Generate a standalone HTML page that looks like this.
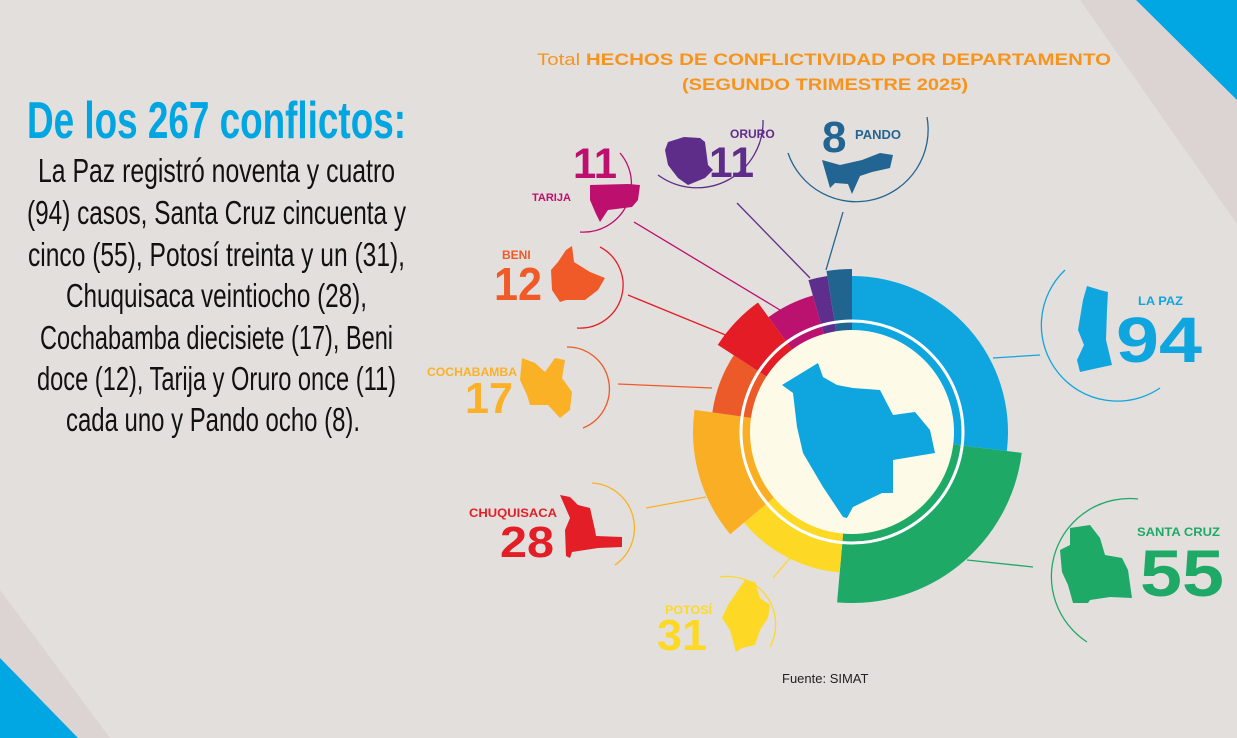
<!DOCTYPE html>
<html><head><meta charset="utf-8">
<style>
html,body{margin:0;padding:0;background:#e3dfdc;}
svg{display:block;}
.c{font-family:"Liberation Sans Narrow","Liberation Sans",sans-serif;}
.s{font-family:"Liberation Sans","DejaVu Sans",sans-serif;font-weight:bold;}
</style></head>
<body>
<svg id="sv" width="1237" height="738" viewBox="0 0 1237 738" xmlns="http://www.w3.org/2000/svg">
<rect width="1237" height="738" fill="#e3dfdc"/>
<polygon points="1080,0 1237,0 1237,224" fill="#dbd4d2"/>
<polygon points="1136,0 1237,0 1237,100" fill="#00a7e3"/>
<polygon points="0,590 110,738 0,738" fill="#dbd4d2"/>
<polygon points="0,658 78,738 0,738" fill="#00a7e3"/>

<text x="537" y="65" class="s" font-size="17" fill="#f7941d" textLength="574" lengthAdjust="spacingAndGlyphs"><tspan font-weight="normal">Total</tspan> HECHOS DE CONFLICTIVIDAD POR DEPARTAMENTO</text>
<text x="682" y="90" class="s" font-size="17" fill="#f7941d" textLength="286" lengthAdjust="spacingAndGlyphs">(SEGUNDO TRIMESTRE 2025)</text>

<g class="c">
<text x="27" y="138" font-size="52" font-weight="bold" fill="#00a6e2" textLength="379" lengthAdjust="spacingAndGlyphs">De los 267 conflictos:</text>
<g font-size="33" fill="#111">
<text x="38" y="182" textLength="357" lengthAdjust="spacingAndGlyphs">La Paz registró noventa y cuatro</text>
<text x="27" y="224" textLength="379" lengthAdjust="spacingAndGlyphs">(94) casos, Santa Cruz cincuenta y</text>
<text x="28" y="266" textLength="377" lengthAdjust="spacingAndGlyphs">cinco (55), Potosí treinta y un (31),</text>
<text x="66" y="307" textLength="301" lengthAdjust="spacingAndGlyphs">Chuquisaca veintiocho (28),</text>
<text x="40" y="349" textLength="353" lengthAdjust="spacingAndGlyphs">Cochabamba diecisiete (17), Beni</text>
<text x="37" y="390" textLength="359" lengthAdjust="spacingAndGlyphs">doce (12), Tarija y Oruro once (11)</text>
<text x="66" y="431" textLength="294" lengthAdjust="spacingAndGlyphs">cada uno y Pando ocho (8).</text>
</g></g>

<g id="ring"></g>
<circle cx="852" cy="432" r="102" fill="#fdfbe8"/>
<circle cx="852" cy="432" r="111" fill="none" stroke="#fff" stroke-width="3"/>
<polygon fill="#0fa5df" points="782,385 818,363 823,377 837,385 853,388 880,390 893,415 915,412 930,430 935,453 893,460 893,493 882,493 853,507 847,518 843,517 823,487 803,453 797,427 793,393"/>

<g fill="none" stroke-width="1.3">
<line x1="634" y1="222" x2="780" y2="310" stroke="#bc0f6e"/>
<line x1="737" y1="203" x2="810" y2="278" stroke="#5e2d8a"/>
<line x1="843" y1="212" x2="826" y2="270" stroke="#236592"/>
<line x1="628" y1="295" x2="728" y2="336" stroke="#e31e26"/>
<line x1="618" y1="384" x2="712" y2="388" stroke="#ef5a28"/>
<line x1="646" y1="508" x2="706" y2="497" stroke="#fbb126"/>
<line x1="773" y1="578" x2="790" y2="558" stroke="#fdd925"/>
<line x1="993" y1="358" x2="1040" y2="355" stroke="#0fa5df"/>
<line x1="967" y1="560" x2="1033" y2="567" stroke="#1fa967"/>
<path d="M620,153 A48,48 0 0 1 580,232" stroke="#bc0f6e"/>
<path d="M658,175 A66,66 0 0 0 763,120" stroke="#5e2d8a"/>
<path d="M788,153 A72,72 0 0 0 927,117" stroke="#236592"/>
<path d="M600,247 A43,43 0 0 1 577,328" stroke="#e31e26"/>
<path d="M567,347 A42,42 0 0 1 583,428" stroke="#ef5a28"/>
<path d="M592,483 A45,45 0 0 1 615,565" stroke="#fbb126"/>
<path d="M720,577 A48,48 0 0 1 770,647" stroke="#fdd925"/>
<path d="M1065,270 A76,76 0 0 0 1160,388" stroke="#0fa5df"/>
<path d="M1138,499 A78,78 0 0 0 1087,642" stroke="#1fa967"/>
</g>

<g class="s">
<text x="573" y="178" font-size="43" fill="#bc0f6e" textLength="44" lengthAdjust="spacingAndGlyphs">11</text>
<text x="532" y="201" font-size="11" fill="#bc0f6e">TARIJA</text>
<polygon fill="#bc0f6e" points="590,185 628,184 640,185 638,200 632,207 608,210 600,222 596,214 590,200"/>

<text x="730" y="138" font-size="12" fill="#5e2d8a">ORURO</text>
<text x="709" y="177" font-size="43" fill="#5e2d8a" textLength="45" lengthAdjust="spacingAndGlyphs">11</text>
<polygon fill="#5e2d8a" points="668,142 684,137 700,138 705,142 708,165 713,170 705,178 688,185 678,178 668,165 665,150"/>

<text x="822" y="152" font-size="44" fill="#236592">8</text>
<text x="855" y="139" font-size="13" fill="#236592">PANDO</text>
<polygon fill="#236592" points="822,160 840,165 862,160 880,153 893,155 890,168 872,172 860,176 852,194 848,184 835,183 830,188"/>

<text x="502" y="259" font-size="12" fill="#ef5a28">BENI</text>
<text x="494" y="300" font-size="46" fill="#ef5a28" textLength="48" lengthAdjust="spacingAndGlyphs">12</text>
<polygon fill="#ef5a28" points="566,250 572,246 574,262 590,272 605,278 598,290 585,300 566,300 560,302 552,290 551,270 558,262"/>

<text x="427" y="376" font-size="12" fill="#fbb126" textLength="90" lengthAdjust="spacingAndGlyphs">COCHABAMBA</text>
<text x="465" y="413" font-size="44" fill="#fbb126" textLength="48" lengthAdjust="spacingAndGlyphs">17</text>
<polygon fill="#fbb126" points="522,358 535,363 545,372 555,358 565,360 562,378 572,392 570,410 560,418 548,405 530,405 527,395 520,380"/>

<text x="469" y="517" font-size="12" fill="#e31e26" textLength="88" lengthAdjust="spacingAndGlyphs">CHUQUISACA</text>
<text x="500" y="557" font-size="44" fill="#e31e26" textLength="54" lengthAdjust="spacingAndGlyphs">28</text>
<polygon fill="#e31e26" points="560,495 570,497 578,505 590,508 595,530 596,536 622,537 622,547 598,548 572,552 570,558 566,556 565,530 570,518"/>

<text x="665" y="614" font-size="12" fill="#fdd925" textLength="47" lengthAdjust="spacingAndGlyphs">POTOSÍ</text>
<text x="657" y="650" font-size="44" fill="#fdd925" textLength="50" lengthAdjust="spacingAndGlyphs">31</text>
<polygon fill="#fdd925" points="745,580 755,582 760,598 770,605 768,618 760,630 755,645 742,648 736,652 730,630 722,618 728,605"/>

<text x="1138" y="305" font-size="12" fill="#0fa5df" textLength="45" lengthAdjust="spacingAndGlyphs">LA PAZ</text>
<text x="1116" y="362" font-size="64" fill="#0fa5df" textLength="86" lengthAdjust="spacingAndGlyphs">94</text>
<polygon fill="#0fa5df" points="1087,286 1100,290 1108,292 1107,310 1106,340 1112,365 1098,368 1080,372 1077,360 1084,345 1078,330 1083,300"/>

<text x="1137" y="536" font-size="12" fill="#1fa967" textLength="83" lengthAdjust="spacingAndGlyphs">SANTA CRUZ</text>
<text x="1140" y="596" font-size="66" fill="#1fa967" textLength="84" lengthAdjust="spacingAndGlyphs">55</text>
<polygon fill="#1fa967" points="1070,528 1090,525 1100,538 1105,555 1122,558 1128,570 1132,598 1110,597 1090,600 1088,603 1073,603 1068,585 1062,572 1060,550 1070,545"/>
</g>

<text x="782" y="683" font-family="Liberation Sans, sans-serif" font-size="13" fill="#222">Fuente: SIMAT</text>
</svg>
<script>
(function(){
var cx=852,cy=432,ri=100;
var segs=[[0,97,156,"#0fa5df"],[97,185,171,"#1fa967"],[185,230,141,"#fdd926"],[230,278,159,"#f9ae24"],[278,303,141,"#ec5a2a"],[303,324,160,"#e31c25"],[324,344,142,"#bb1270"],[344,351,158,"#5f2d8b"],[351,360,163,"#21648f"]];
var g=document.getElementById("ring"),ns="http://www.w3.org/2000/svg";
function pt(r,d){var t=d*Math.PI/180;return [(cx+r*Math.sin(t)).toFixed(2),(cy-r*Math.cos(t)).toFixed(2)];}
segs.forEach(function(s){
 var a=s[0],b=s[1],R=s[2],lg=(b-a)>180?1:0;
 var p1=pt(R,a),p2=pt(R,b),p3=pt(ri,b),p4=pt(ri,a);
 var d="M"+p1+" A"+R+","+R+" 0 "+lg+" 1 "+p2+" L"+p3+" A"+ri+","+ri+" 0 "+lg+" 0 "+p4+"Z";
 var e=document.createElementNS(ns,"path");e.setAttribute("d",d);e.setAttribute("fill",s[3]);g.appendChild(e);
});
})();
</script>
</body></html>
